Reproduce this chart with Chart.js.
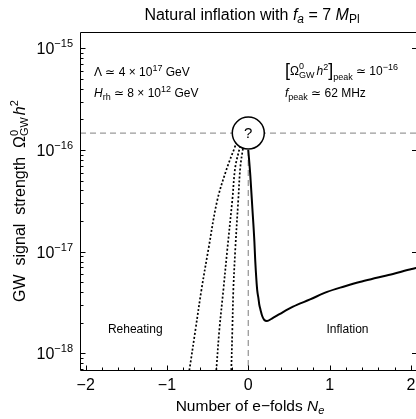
<!DOCTYPE html>
<html>
<head>
<meta charset="utf-8">
<script src="https://cdn.jsdelivr.net/npm/chart.js@4.4.0/dist/chart.umd.min.js"></script>
<style>
  html, body { margin: 0; padding: 0; background: #fff; }
  #wrap { width: 416px; height: 419px; }
</style>
</head>
<body>
<div id="wrap"><canvas id="gw-chart" width="416" height="419"></canvas></div>
<script>
// 인플레이션 구간 (실선): e-fold 수 N_e 와 신호 세기 Ω_GW h^2
const inflationN = [0, 0.025, 0.05, 0.075, 0.085, 0.10, 0.11, 0.125, 0.135, 0.15, 0.17, 0.195, 0.23, 0.29, 0.39, 0.55, 0.76, 0.97, 1.18, 1.37, 1.58, 1.78, 2.01, 2.07];
const inflationOmega = [1.0e-16, 5.62e-17, 2.69e-17, 1.26e-17, 8.3e-18, 5.25e-18, 4.17e-18, 3.47e-18, 3.02e-18, 2.69e-18, 2.34e-18, 2.14e-18, 2.08e-18, 2.20e-18, 2.45e-18, 2.88e-18, 3.39e-18, 4.02e-18, 4.55e-18, 5.04e-18, 5.53e-18, 6.04e-18, 6.76e-18, 6.92e-18];

// 재가열 구간 (점선 3개) - 세 곡선이 같은 Ω 값들을 지나므로 Ω 배열은 하나를 공유
const reheatOmega = [5.2e-19, 6.9e-19, 1.70e-18, 4.17e-18, 1.05e-17, 3.24e-17, 6.8e-17, 1.1e-16, 1.35e-16];
const reheatN1 = [-0.75, -0.724, -0.65, -0.577, -0.491, -0.38, -0.258, -0.16, -0.13];
const reheatN2 = [-0.405, -0.393, -0.356, -0.307, -0.258, -0.196, -0.16, -0.10, -0.08];
const reheatN3 = [-0.215, -0.209, -0.196, -0.184, -0.16, -0.123, -0.098, -0.06, -0.04];

// 피크 표시 ("?" 원) 와 회색 점선 기준선
const peakN = 0;
const peakCircleOmega = 1.47e-16;
const peakOmega = 1.0e-16;

// 축 범위와 눈금
const xRange = [-2.07, 2.063];
const yRange = [6.7e-19, 1.45e-15];
const xTickValues = [-2, -1, 0, 1, 2];
const xTickLabels = ['−2', '−1', '0', '1', '2'];
const xMinorStep = 0.2;
const yTickValues = [1e-18, 1e-17, 1e-16, 1e-15];
const yTickExponents = ['−18', '−17', '−16', '−15'];

// 구간 이름
const regionLabels = ['Reheating', 'Inflation'];
const regionLabelN = [-1.39, 1.22];
const regionLabelOmega = [1.72e-18, 1.72e-18];

const FONT = "'Liberation Sans', Arial, Helvetica, sans-serif";

const toPoints = (xs, ys) => xs.map((x, i) => ({ x: x, y: ys[i] }));

// 서식 있는 텍스트 (위첨자/아래첨자/기울임) 를 조각 단위로 그리는 도우미
function setFont(ctx, size, italic) {
    ctx.font = (italic ? 'italic ' : '') + size + 'px ' + FONT;
}
function partWidth(ctx, p) {
    if (p.stack) {
        setFont(ctx, p.size, false);
        return Math.max(ctx.measureText(p.stack[0]).width, ctx.measureText(p.stack[1]).width) + (p.gap || 0);
    }
    setFont(ctx, p.size, p.italic);
    return ctx.measureText(p.t).width + (p.gap || 0);
}
function drawRich(ctx, parts, x, y, align) {
    const widths = parts.map(p => partWidth(ctx, p));
    const total = widths.reduce((a, b) => a + b, 0);
    let cx = align === 'center' ? x - total / 2 : (align === 'right' ? x - total : x);
    ctx.textAlign = 'left';
    ctx.textBaseline = 'alphabetic';
    parts.forEach((p, i) => {
        if (p.stack) {
            setFont(ctx, p.size, false);
            ctx.fillText(p.stack[0], cx, y - p.up);
            ctx.fillText(p.stack[1], cx, y + p.down);
        } else {
            setFont(ctx, p.size, p.italic);
            ctx.fillText(p.t, cx, y + (p.dy || 0));
        }
        cx += widths[i];
    });
}

const whiteBackground = {
    id: 'whiteBackground',
    beforeDraw(chart) {
        const ctx = chart.ctx;
        ctx.save();
        ctx.fillStyle = '#fff';
        ctx.fillRect(0, 0, chart.width, chart.height);
        ctx.restore();
    }
};

// 원 안의 물음표
const peakMark = {
    id: 'peakMark',
    afterDatasetsDraw(chart) {
        const el = chart.getDatasetMeta(0).data[0];
        const ctx = chart.ctx;
        ctx.save();
        ctx.fillStyle = '#000';
        setFont(ctx, 15, false);
        ctx.textAlign = 'center';
        ctx.textBaseline = 'middle';
        ctx.fillText('?', el.x, el.y + 1);
        ctx.restore();
    }
};

// 프레임, 안쪽 눈금, 눈금 라벨, 축 제목, 주석 텍스트
const frameAndText = {
    id: 'frameAndText',
    afterDraw(chart) {
        const ctx = chart.ctx;
        const a = chart.chartArea;
        const xs = chart.scales.x;
        const ys = chart.scales.y;
        ctx.save();
        ctx.strokeStyle = '#000';
        ctx.fillStyle = '#000';
        ctx.lineWidth = 1;

        ctx.beginPath();
        ctx.moveTo(a.left + 0.5, a.bottom - 0.5);
        ctx.lineTo(a.left + 0.5, a.top + 0.5);
        ctx.lineTo(a.right + 1, a.top + 0.5);
        ctx.moveTo(a.left + 0.5, a.bottom - 0.5);
        ctx.lineTo(a.right + 1, a.bottom - 0.5);
        ctx.stroke();

        // x 눈금 (0.2 간격 보조 눈금)
        ctx.beginPath();
        for (let k = Math.ceil(xRange[0] / xMinorStep); k * xMinorStep <= xRange[1]; k++) {
            const v = k * xMinorStep;
            const px = Math.round(xs.getPixelForValue(v)) + 0.5;
            const major = Math.abs(v - Math.round(v)) < 1e-6;
            ctx.moveTo(px, a.bottom - 0.5);
            ctx.lineTo(px, a.bottom - 0.5 - (major ? 5 : 3));
        }
        // y 눈금 (로그 보조 눈금은 왼쪽만)
        for (let e = -19; e <= -15; e++) {
            for (let m = 1; m <= 9; m++) {
                const v = m * Math.pow(10, e);
                if (v < yRange[0] || v > yRange[1]) continue;
                const py = Math.round(ys.getPixelForValue(v)) + 0.5;
                const major = m === 1;
                ctx.moveTo(a.left + 0.5, py);
                ctx.lineTo(a.left + 0.5 + (major ? 5 : 3), py);
                if (major) {
                    ctx.moveTo(a.right, py);
                    ctx.lineTo(a.right - 4, py);
                }
            }
        }
        ctx.stroke();

        // x 눈금 라벨
        setFont(ctx, 16, false);
        ctx.textAlign = 'center';
        ctx.textBaseline = 'alphabetic';
        xTickValues.forEach((v, i) => {
            ctx.fillText(xTickLabels[i], xs.getPixelForValue(v), a.bottom + 19);
        });
        // y 눈금 라벨 10^n
        yTickValues.forEach((v, i) => {
            const py = ys.getPixelForValue(v);
            drawRich(ctx, [
                { t: '10', size: 16 },
                { t: yTickExponents[i], size: 11, dy: -7 }
            ], a.left - 7, py + 6, 'right');
        });

        // 제목
        drawRich(ctx, [
            { t: 'Natural inflation with ', size: 16 },
            { t: 'f', size: 16, italic: true },
            { t: 'a', size: 12, italic: true, dy: 3 },
            { t: ' = 7 ', size: 16 },
            { t: 'M', size: 16, italic: true },
            { t: 'Pl', size: 12, dy: 3 }
        ], 252, 20, 'center');

        // x 축 제목
        drawRich(ctx, [
            { t: 'Number of e−folds ', size: 15.5 },
            { t: 'N', size: 15.5, italic: true },
            { t: 'e', size: 11, italic: true, dy: 3 }
        ], 250, 411, 'center');

        // y 축 제목 (세로)
        ctx.save();
        ctx.translate(25, 201);
        ctx.rotate(-Math.PI / 2);
        drawRich(ctx, [
            { t: 'GW  signal  strength  Ω', size: 16 },
            { stack: ['0', 'GW'], size: 11, up: 7, down: 3, gap: 2 },
            { t: 'h', size: 16, italic: true },
            { t: '2', size: 11, dy: -7 }
        ], 0, 0, 'center');
        ctx.restore();

        // 왼쪽 위 주석
        const lx = a.left + 14;
        drawRich(ctx, [
            { t: 'Λ ≃ 4 × 10', size: 12 },
            { t: '17', size: 9, dy: -5 },
            { t: ' GeV', size: 12 }
        ], lx, 76, 'left');
        drawRich(ctx, [
            { t: 'H', size: 12, italic: true },
            { t: 'rh', size: 9, dy: 3 },
            { t: ' ≃ 8 × 10', size: 12 },
            { t: '12', size: 9, dy: -5 },
            { t: ' GeV', size: 12 }
        ], lx, 97, 'left');

        // 오른쪽 위 주석
        const rx = a.left + 205;
        drawRich(ctx, [
            { t: '[', size: 18, dy: 1 },
            { t: 'Ω', size: 12 },
            { stack: ['0', 'GW'], size: 9, up: 6, down: 3, gap: 2 },
            { t: 'h', size: 12, italic: true },
            { t: '2', size: 9, dy: -5 },
            { t: ']', size: 18, dy: 1 },
            { t: 'peak', size: 9, dy: 5 },
            { t: ' ≃ 10', size: 12 },
            { t: '−16', size: 9, dy: -5 }
        ], rx, 75, 'left');
        drawRich(ctx, [
            { t: 'f', size: 12, italic: true },
            { t: 'peak', size: 9, dy: 3 },
            { t: ' ≃ 62 MHz', size: 12 }
        ], rx, 97, 'left');

        // 구간 이름
        setFont(ctx, 12, false);
        ctx.textAlign = 'center';
        ctx.textBaseline = 'middle';
        regionLabels.forEach((label, i) => {
            ctx.fillText(label, xs.getPixelForValue(regionLabelN[i]), ys.getPixelForValue(regionLabelOmega[i]));
        });
        ctx.restore();
    }
};

const canvasElement = document.getElementById('gw-chart');
const dottedStyle = { borderColor: '#000', borderWidth: 1.7, borderDash: [2, 2], pointRadius: 0, fill: false, tension: 0.35, clip: 0 };
const grayDashStyle = { borderColor: '#9a9a9a', borderWidth: 1.3, borderDash: [6, 4], pointRadius: 0, fill: false, clip: 0 };

new Chart(canvasElement.getContext('2d'), {
    type: 'line',
    data: {
        datasets: [
            // 0: 맨 위에 그려지는 "?" 원
            { data: [{ x: peakN, y: peakCircleOmega }], showLine: false, pointRadius: 16, pointBackgroundColor: '#fff', pointBorderColor: '#000', pointBorderWidth: 1.5 },
            // 1: 인플레이션 곡선
            { data: toPoints(inflationN, inflationOmega), borderColor: '#000', borderWidth: 2, pointRadius: 0, fill: false, cubicInterpolationMode: 'monotone', clip: 0 },
            // 2-4: 재가열 곡선들
            Object.assign({ data: toPoints(reheatN1, reheatOmega) }, dottedStyle),
            Object.assign({ data: toPoints(reheatN2, reheatOmega) }, dottedStyle),
            Object.assign({ data: toPoints(reheatN3, reheatOmega) }, dottedStyle),
            // 5-6: 회색 점선 (피크 높이, N_e = 0)
            Object.assign({ data: [{ x: xRange[0], y: peakCircleOmega }, { x: xRange[1], y: peakCircleOmega }] }, grayDashStyle),
            Object.assign({ data: [{ x: peakN, y: peakOmega }, { x: peakN, y: yRange[0] }] }, grayDashStyle)
        ]
    },
    options: {
        responsive: false,
        animation: false,
        events: [],
        layout: { autoPadding: false, padding: { top: 32, right: 0, left: 0, bottom: 0 } },
        plugins: { legend: { display: false }, tooltip: { enabled: false }, title: { display: false } },
        scales: {
            x: {
                type: 'linear', min: xRange[0], max: xRange[1],
                grid: { display: false }, border: { display: false }, ticks: { display: false },
                afterFit: (scale) => { scale.height = 48; }
            },
            y: {
                type: 'logarithmic', min: yRange[0], max: yRange[1],
                grid: { display: false }, border: { display: false }, ticks: { display: false },
                afterFit: (scale) => { scale.width = 80; }
            }
        }
    },
    plugins: [whiteBackground, peakMark, frameAndText]
});
</script>
</body>
</html>
